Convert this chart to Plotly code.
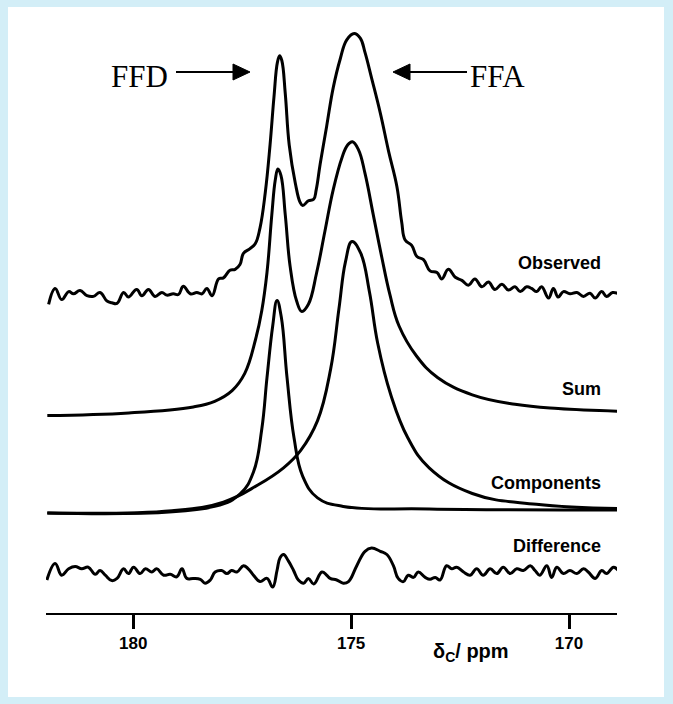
import plotly.graph_objects as go

# ---------------- data ----------------
# chemical shift (ppm) and intensity (arbitrary units, relative to each trace's own baseline)
obs_ppm = [181.94, 181.79, 181.64, 181.48, 181.37, 181.22, 181.06, 180.91, 180.76, 180.60,
           180.49, 180.37, 180.22, 180.11, 179.92, 179.80, 179.65, 179.50, 179.34, 179.23,
           179.08, 178.96, 178.85, 178.69, 178.54, 178.42, 178.31, 178.19, 178.04, 177.93,
           177.78, 177.66, 177.55, 177.47, 177.32, 177.20, 177.09, 176.97, 176.86, 176.77,
           176.69, 176.64, 176.59, 176.51, 176.42, 176.28, 176.17, 176.11, 175.98, 175.86,
           175.80, 175.71, 175.56, 175.41, 175.25, 175.10, 174.93, 174.79, 174.68, 174.53,
           174.33, 174.14, 173.95, 173.84, 173.76, 173.61, 173.49, 173.34, 173.19, 173.03,
           172.92, 172.77, 172.61, 172.46, 172.31, 172.16, 172.00, 171.85, 171.70, 171.54,
           171.39, 171.24, 171.12, 170.97, 170.86, 170.74, 170.63, 170.47, 170.36, 170.25,
           170.13, 169.98, 169.82, 169.67, 169.52, 169.40, 169.25, 169.14, 169.00, 168.87]
obs_int = [-10.3, 5.6, -5.6, 2.4, 0.2, 3.4, -1.7, -2.4, 1.5, -7.1,
           -8.7, -9.4, 1.5, -3.0, 4.6, -1.7, 4.6, -2.4, 1.5, -1.1,
           0.2, -0.5, 7.8, 0.2, 1.5, 0.2, 5.6, -1.7, 15.1, 16.1,
           23.8, 24.7, 29.5, 40.7, 45.4, 50.2, 66.2, 101.2, 149.0, 196.8,
           231.9, 238.2, 233.5, 200.0, 149.0, 110.8, 91.6, 88.5, 93.2, 94.8,
           104.4, 129.9, 168.1, 206.4, 235.0, 254.2, 260.5, 255.8, 241.4, 215.9,
           180.9, 142.7, 107.6, 72.0, 54.0, 48.6, 37.5, 34.3, 23.1, 21.5,
           15.1, 24.7, 16.8, 13.6, 8.8, 15.1, 7.2, 12.0, 4.6, 9.8,
           4.0, 7.2, 2.4, 7.2, 5.6, 2.4, 7.2, -4.0, 5.6, -3.0,
           2.4, 0.2, 1.5, -2.4, 0.8, -4.0, 2.4, -2.4, 1.5, 0.2]

sum_ppm = [181.97, 180.10, 178.62, 178.13, 177.73, 177.44, 177.19, 177.05, 176.93, 176.82,
           176.74, 176.68, 176.61, 176.51, 176.40, 176.25, 176.13, 175.98, 175.79, 175.60,
           175.41, 175.21, 175.08, 174.97, 174.83, 174.68, 174.49, 174.30, 174.11, 173.90,
           173.50, 173.01, 172.22, 171.24, 170.25, 168.88]
sum_int = [0.5, 3.1, 9.1, 14.7, 25.4, 42.6, 77.0, 105.3, 143.5, 200.9,
           236.0, 247.1, 240.7, 200.9, 149.9, 114.9, 104.5, 111.7, 143.5, 185.0,
           226.4, 258.3, 271.0, 274.2, 266.2, 242.3, 200.9, 159.5, 121.3, 90.0,
           60.0, 38.3, 21.2, 11.7, 7.4, 4.8]

ffd_ppm = [181.97, 178.13, 177.54, 177.24, 177.05, 176.93, 176.80, 176.70, 176.60, 176.47,
           176.31, 176.11, 175.77, 175.18, 173.21, 168.88]
ffd_int = [0.1, 6.6, 19.5, 41.0, 83.8, 135.3, 186.8, 212.6, 195.4, 135.3,
           75.2, 36.6, 15.1, 6.6, 4.0, 3.1]

ffa_ppm = [181.97, 179.11, 177.93, 177.14, 176.55, 176.16, 175.77, 175.47, 175.28, 175.13,
           174.98, 174.78, 174.58, 174.39, 174.09, 173.70, 173.21, 172.22, 170.75, 168.88]
ffa_int = [0.1, 2.3, 10.9, 28.0, 45.2, 62.4, 92.4, 143.9, 204.0, 251.2,
           271.4, 259.8, 221.2, 169.7, 118.2, 75.2, 45.2, 19.5, 8.7, 4.4]

diff_ppm = [181.98, 181.79, 181.64, 181.48, 181.33, 181.18, 181.03, 180.87, 180.76, 180.64,
            180.49, 180.37, 180.22, 180.11, 179.99, 179.84, 179.72, 179.57, 179.46, 179.30,
            179.15, 179.00, 178.88, 178.77, 178.62, 178.46, 178.35, 178.23, 178.12, 177.97,
            177.85, 177.74, 177.62, 177.47, 177.36, 177.24, 177.09, 176.93, 176.80, 176.70,
            176.63, 176.55, 176.44, 176.32, 176.21, 176.09, 175.98, 175.86, 175.67, 175.56,
            175.48, 175.33, 175.18, 175.06, 174.87, 174.68, 174.53, 174.33, 174.18, 174.03,
            173.92, 173.80, 173.69, 173.57, 173.46, 173.30, 173.19, 173.07, 172.96, 172.81,
            172.69, 172.58, 172.42, 172.27, 172.12, 171.97, 171.81, 171.66, 171.51, 171.35,
            171.20, 171.05, 170.89, 170.78, 170.67, 170.51, 170.40, 170.28, 170.13, 169.98,
            169.82, 169.67, 169.56, 169.40, 169.25, 169.14, 168.98, 168.87]
diff_int = [-7.0, 9.6, -2.2, 4.2, 6.4, 4.2, 5.8, -1.3, 2.5, -2.2,
            -7.6, -5.4, 4.2, -0.6, 5.8, -0.6, 4.2, 1.0, 4.2, -2.2,
            -1.3, -3.8, 4.2, -5.4, -5.4, -6.3, -10.2, -7.0, 1.0, 2.5,
            -0.6, 2.5, 1.0, 7.3, 4.2, -2.2, -8.6, -5.4, -14.0, 2.5,
            15.3, 18.5, 12.1, 2.5, -7.0, -10.2, -5.4, -11.0, 1.0, -2.2,
            -5.4, -7.0, -10.2, -8.6, 7.3, 21.7, 24.9, 21.7, 18.5, 7.3,
            -5.4, -8.6, -2.2, -4.4, 1.0, -4.4, -6.3, -4.4, -7.0, 7.3,
            4.2, 5.8, 1.0, -2.2, 4.2, -2.2, 4.2, -0.6, 5.8, -0.6,
            4.2, 2.5, 7.3, 2.5, -2.2, 7.3, -4.4, 5.8, -0.6, 2.5,
            -0.6, 4.2, 1.0, -5.4, 2.5, -0.6, 5.8, 2.5]

# vertical stacking offsets of the four traces
obs_offset = 319
sum_offset = 197
comp_offset = 100
diff_offset = 40

trace_labels = ["Observed", "Sum", "Components", "Difference"]
tick_vals = [180, 175, 170]
tick_text = ["180", "175", "170"]

# ---------------- figure ----------------
W, H = 673, 704
ML, MR, MT, MB = 46, 56, 20, 91
PW, PH = W - ML - MR, H - MT - MB


def px(x):
    return (x - ML) / PW


def py(y):
    return (H - MB - y) / PH


smooth = dict(color="black", width=3, shape="spline", smoothing=1.2)
fig = go.Figure()
fig.add_trace(go.Scatter(x=obs_ppm, y=[v + obs_offset for v in obs_int], mode="lines", line=smooth))
fig.add_trace(go.Scatter(x=sum_ppm, y=[v + sum_offset for v in sum_int], mode="lines", line=smooth))
fig.add_trace(go.Scatter(x=ffd_ppm, y=[v + comp_offset for v in ffd_int], mode="lines", line=smooth))
fig.add_trace(go.Scatter(x=ffa_ppm, y=[v + comp_offset for v in ffa_int], mode="lines", line=smooth))
fig.add_trace(go.Scatter(x=diff_ppm, y=[v + diff_offset for v in diff_int], mode="lines", line=smooth))

# white sheet on the light-blue page
shapes = [dict(type="rect", xref="paper", yref="paper", x0=px(8), x1=px(664), y0=py(697), y1=py(7),
               fillcolor="white", line=dict(width=0), layer="below")]


def arrow(x_tail, x_tip, y):
    d = 1 if x_tip > x_tail else -1
    base = x_tip - d * 17
    return [dict(type="line", xref="paper", yref="paper", x0=px(x_tail), x1=px(base), y0=py(y), y1=py(y),
                 line=dict(color="black", width=2)),
            dict(type="path", xref="paper", yref="paper",
                 path=f"M {px(base)} {py(y - 8)} L {px(x_tip)} {py(y)} L {px(base)} {py(y + 8)} Z",
                 fillcolor="black", line=dict(color="black", width=1))]


shapes += arrow(176, 250, 72)
shapes += arrow(467, 393, 72)

ann = []
sans = "Liberation Sans, Arial, sans-serif"
serif = "Liberation Serif, Times New Roman, serif"
label_y = [263, 389, 483, 546]
for t, yy in zip(trace_labels, label_y):
    ann.append(dict(text=t, xref="paper", yref="paper", x=px(603), y=py(yy), xanchor="right",
                    yanchor="middle", showarrow=False,
                    font=dict(family=sans, size=18, color="black", weight="bold")))
ann.append(dict(text="FFD", xref="paper", yref="paper", x=px(109), y=py(77), xanchor="left",
                yanchor="middle", showarrow=False, font=dict(family=serif, size=31, color="black")))
ann.append(dict(text="FFA", xref="paper", yref="paper", x=px(468), y=py(77), xanchor="left",
                yanchor="middle", showarrow=False, font=dict(family=serif, size=31, color="black")))
ann.append(dict(text="δ<sub>C</sub>/ ppm", xref="paper", yref="paper", x=px(431), y=py(652),
                xanchor="left", yanchor="middle", showarrow=False,
                font=dict(family=sans, size=20, color="black", weight="bold")))

fig.update_layout(
    width=W, height=H,
    margin=dict(l=ML, r=MR, t=MT, b=MB),
    paper_bgcolor="#d3eef7",
    plot_bgcolor="white",
    showlegend=False,
    shapes=shapes,
    annotations=ann,
    xaxis=dict(range=[182.0, 168.9], showgrid=False, zeroline=False, showline=True,
               linecolor="black", linewidth=2, ticks="outside", ticklen=14, tickwidth=2.5,
               tickcolor="black", tickvals=tick_vals, ticktext=tick_text,
               tickfont=dict(family=sans, size=17, color="black", weight="bold")),
    yaxis=dict(range=[0, PH], visible=False),
)

fig.write_html("out.html")
